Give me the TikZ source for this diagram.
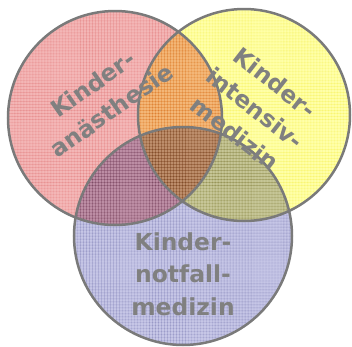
\documentclass[tikz,border=0pt]{standalone}
\usepackage{fontspec}
\setmainfont{DejaVu Sans}
\usetikzlibrary{patterns}
\definecolor{rfill}{RGB}{243,182,182}
\definecolor{yfill}{RGB}{255,255,168}
\definecolor{bfill}{RGB}{198,198,230}
\definecolor{rgrid}{RGB}{215,60,60}
\definecolor{ygrid}{RGB}{245,235,60}
\definecolor{bgrid}{RGB}{70,70,150}
\definecolor{ringgray}{RGB}{122,122,122}
\definecolor{txtgray}{RGB}{128,128,128}
\tikzset{
  ring/.style={draw=ringgray, line width=2.5bp},
  lbl/.style={text=txtgray, font=\bfseries\fontsize{23.5}{32.5}\selectfont, align=center, inner sep=0pt},
}
\begin{document}
\begin{tikzpicture}[x=1bp,y=-1bp]
\useasboundingbox (0,0) rectangle (352,347);
\begin{scope}[blend group=multiply]
  \fill[rfill] (115,118) circle[radius=107];
  \fill[yfill] (244,115) circle[radius=106];
  \fill[bfill] (183,236) circle[radius=109];
  \fill[pattern=grid, pattern color=rgrid!60, opacity=0.35] (115,118) circle[radius=107];
  \fill[pattern=grid, pattern color=ygrid, opacity=0.35] (244,115) circle[radius=106];
  \fill[pattern=grid, pattern color=bgrid!70, opacity=0.35] (183,236) circle[radius=109];
\end{scope}
\node[ring, circle, minimum size=214bp, inner sep=0pt] (an) at (115,118) {};
\node[ring, circle, minimum size=212bp, inner sep=0pt] (in) at (244,115) {};
\node[ring, circle, minimum size=218bp, inner sep=0pt] (no) at (183,236) {};
\node[lbl, rotate=35] (tan) at (102,97) {Kinder-\\anästhesie};
\node[lbl, rotate=-38] (tin) at (255,108) {Kinder-\\intensiv-\\medizin};
\node[lbl] (tno) at (183,274) {Kinder-\\notfall-\\medizin};
\end{tikzpicture}
\end{document}
